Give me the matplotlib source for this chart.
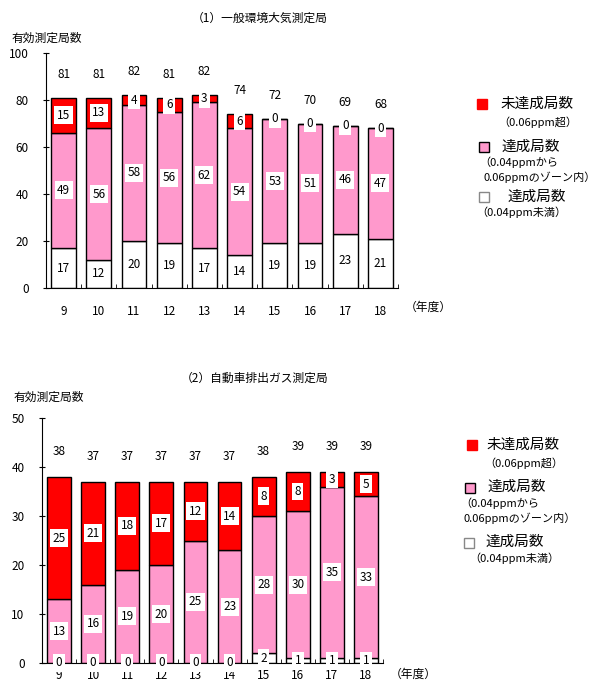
import matplotlib.pyplot as plt
import matplotlib.patches as patches
import numpy as np

plt.rcParams['font.family'] = ['Noto Sans CJK JP', 'DejaVu Sans']

years = ['9', '10', '11', '12', '13', '14', '15', '16', '17', '18']

# (1) general ambient stations
genBelow = [17, 12, 20, 19, 17, 14, 19, 19, 23, 21]
genZone = [49, 56, 58, 56, 62, 54, 53, 51, 46, 47]
genOver = [15, 13, 4, 6, 3, 6, 0, 0, 0, 0]
genTotal = [81, 81, 82, 81, 82, 74, 72, 70, 69, 68]

# (2) roadside stations
carBelow = [0, 0, 0, 0, 0, 0, 2, 1, 1, 1]
carZone = [13, 16, 19, 20, 25, 23, 28, 30, 35, 33]
carOver = [25, 21, 18, 17, 12, 14, 8, 8, 3, 5]
carTotal = [38, 37, 37, 37, 37, 37, 38, 39, 39, 39]

RED = '#ff0000'
PINK = '#ff99cc'
W, H = 609, 686


def px(x, y):
    return x / W, 1 - y / H


def drawPanel(ax, below, zone, over, total, ymax, ystep, totOffset, xpad):
    xpos = np.arange(len(years))
    below = np.array(below)
    zone = np.array(zone)
    over = np.array(over)
    box = dict(facecolor='white', edgecolor='none', pad=1.8)

    ax.bar(xpos, below, 0.7, color='white', edgecolor='black', linewidth=1)
    ax.bar(xpos, zone, 0.7, bottom=below, color=PINK, edgecolor='black', linewidth=1)
    ax.bar(xpos, over, 0.7, bottom=below + zone, color=RED, edgecolor='black', linewidth=1)

    for i in xpos:
        ax.text(i, below[i] / 2, str(below[i]), ha='center', va='center', fontsize=8.5, bbox=box)
        ax.text(i, below[i] + zone[i] / 2, str(zone[i]), ha='center', va='center', fontsize=8.5, bbox=box)
        yo = below[i] + zone[i] + over[i] / 2
        ax.text(i, yo, str(over[i]), ha='center', va='center', fontsize=8.5, bbox=box)
        ax.text(i, total[i] + totOffset, str(total[i]), ha='center', va='center', fontsize=8.5)

    ax.set_xlim(-0.5, len(years) - 0.5)
    ax.set_ylim(0, ymax)
    ax.set_yticks(np.arange(0, ymax + 1, ystep))
    ax.set_xticks(xpos)
    ax.set_xticklabels(years)
    ax.set_xticks(np.arange(-0.5, len(years)), minor=True)
    ax.tick_params(axis='x', which='major', length=0, pad=xpad, labelsize=8.5)
    ax.tick_params(axis='x', which='minor', direction='in', length=3)
    ax.tick_params(axis='y', direction='inout', length=5, labelsize=8.5, pad=10)
    ax.spines['top'].set_visible(False)
    ax.spines['right'].set_visible(False)
    ax.patch.set_alpha(0)


def legendBlock(fig, items):
    # items: (square x, square y, color, text lines)
    for sx, sy, color, texts in items:
        x0, y0 = px(sx - 5, sy + 5)
        edge = 'black' if color == PINK else ('#888888' if color == 'white' else color)
        fig.add_artist(patches.Rectangle((x0, y0), 10 / W, 10 / H, transform=fig.transFigure,
                                         facecolor=color, edgecolor=edge, linewidth=1))
        for tx, ty, s, size in texts:
            fig.text(*px(tx, ty), s, fontsize=size, va='center', ha='left')


fig = plt.figure(figsize=(W / 100, H / 100), dpi=100)

ax1 = fig.add_axes([46 / W, 398 / H, 352 / W, 235 / H])
drawPanel(ax1, genBelow, genZone, genOver, genTotal, 100, 20, 10, 12)
fig.text(*px(260, 18), '（1）一般環境大気測定局', ha='center', va='center', fontsize=8.5)
fig.text(*px(12, 38), '有効測定局数', ha='left', va='center', fontsize=8.5)
fig.text(*px(405, 307), '（年度）', ha='left', va='center', fontsize=8.5)
legendBlock(fig, [
    (482, 104, RED, [(500, 104, '未達成局数', 10.5), (498, 122, '（0.06ppm超）', 8)]),
    (484, 147, PINK, [(501, 147, '達成局数', 10.5), (479, 162, '（0.04ppmから', 8),
                      (483, 177, '0.06ppmのゾーン内）', 8)]),
    (484, 197, 'white', [(508, 197, '達成局数', 10.5), (476, 212, '（0.04ppm未満）', 8)]),
])

ax2 = fig.add_axes([42 / W, 23 / H, 341 / W, 245 / H])
drawPanel(ax2, carBelow, carZone, carOver, carTotal, 50, 10, 5.2, 4)
fig.text(*px(255, 378), '（2）自動車排出ガス測定局', ha='center', va='center', fontsize=8.5)
fig.text(*px(14, 397), '有効測定局数', ha='left', va='center', fontsize=8.5)
fig.text(*px(390, 674), '（年度）', ha='left', va='center', fontsize=8.5)
legendBlock(fig, [
    (472, 445, RED, [(486, 445, '未達成局数', 10.5), (484, 463, '（0.06ppm超）', 8)]),
    (470, 488, PINK, [(488, 487, '達成局数', 10.5), (460, 503, '（0.04ppmから', 8),
                      (464, 518, '0.06ppmのゾーン内）', 8)]),
    (469, 543, 'white', [(485, 542, '達成局数', 10.5), (469, 558, '（0.04ppm未満）', 8)]),
])

plt.savefig('out.png', dpi=100)
